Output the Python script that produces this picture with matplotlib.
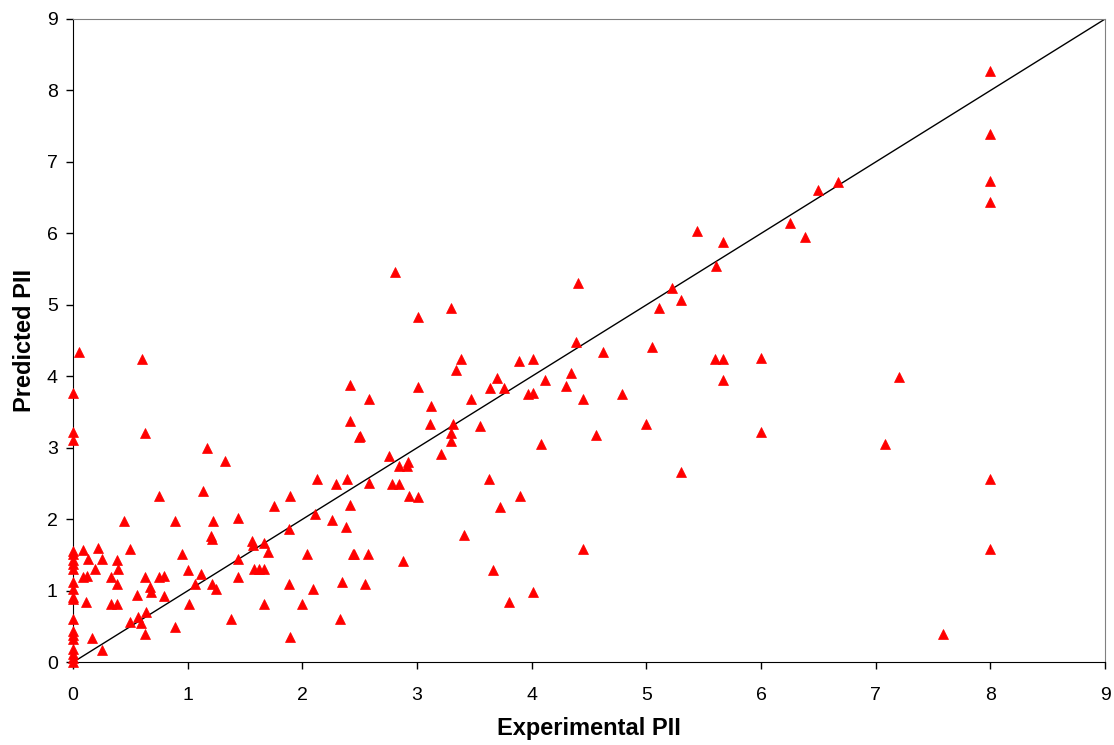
import numpy as np
import matplotlib.pyplot as plt

plt.rcParams['font.family'] = ['Liberation Sans', 'DejaVu Sans']

# experimental vs predicted PII
exp_zero = [0.0] * 20
pred_zero = [3.77, 3.22, 3.11, 1.56, 1.51, 1.43, 1.37, 1.31, 1.13, 1.03, 0.92,
             0.89, 0.60, 0.44, 0.38, 0.33, 0.18, 0.12, 0.06, 0.01]

exp_low = [0.05, 0.60, 0.63, 0.445, 0.89, 0.085, 0.22, 0.50, 0.135, 0.25, 0.38,
           0.95, 0.19, 0.39, 0.09, 0.12, 0.33, 0.38, 1.00, 0.63, 0.75, 0.79,
           0.67, 0.68, 0.56, 0.79, 0.11, 0.33, 0.38, 1.01, 0.50, 0.57, 0.64,
           0.59, 0.63, 0.89, 0.17, 0.25, 0.75]
pred_low = [4.34, 4.24, 3.21, 1.97, 1.97, 1.57, 1.60, 1.58, 1.44, 1.44, 1.43,
            1.51, 1.30, 1.30, 1.20, 1.21, 1.19, 1.09, 1.29, 1.19, 1.20, 1.21,
            1.05, 0.98, 0.94, 0.93, 0.84, 0.82, 0.82, 0.81, 0.56, 0.63, 0.70,
            0.55, 0.39, 0.49, 0.34, 0.17, 2.32]

exp_mid = [2.42, 2.42, 2.49, 1.17, 1.33, 1.13, 1.22, 1.44, 1.20, 1.21, 1.755,
           1.89, 2.13, 2.29, 2.39, 2.42, 2.11, 2.26, 2.38, 1.88, 1.56, 1.57,
           1.67, 1.70, 1.44, 2.04, 2.44, 1.58, 1.62, 1.67, 1.44, 1.12, 1.06,
           1.21, 1.25, 1.88, 2.09, 2.35, 1.67, 2.00, 1.38, 1.89, 2.33, 2.55,
           2.57, 2.45]
pred_mid = [3.88, 3.38, 3.15, 3.00, 2.82, 2.40, 1.98, 2.02, 1.77, 1.72, 2.18,
            2.32, 2.57, 2.50, 2.56, 2.20, 2.08, 1.99, 1.89, 1.87, 1.70, 1.64,
            1.67, 1.54, 1.44, 1.51, 1.52, 1.30, 1.30, 1.30, 1.19, 1.23, 1.09,
            1.10, 1.02, 1.09, 1.02, 1.12, 0.82, 0.82, 0.60, 0.36, 0.60, 1.10,
            1.52, 1.52]

exp_high = [2.81, 4.40, 3.005, 3.30, 4.39, 3.38, 3.34, 3.89, 4.01, 3.70, 3.64,
            3.76, 4.12, 4.34, 4.30, 3.97, 4.01, 4.45, 3.005, 2.58, 3.12, 3.47,
            3.11, 3.31, 3.30, 3.30, 3.55, 2.50, 4.56, 4.08, 3.21, 2.755, 2.84,
            2.91, 2.92, 2.58, 2.78, 2.84, 3.63, 2.93, 3.005, 3.90, 3.72, 3.41,
            4.45, 2.88, 3.66, 3.80, 4.01]
pred_high = [5.46, 5.31, 4.83, 4.95, 4.48, 4.24, 4.09, 4.21, 4.24, 3.98, 3.84,
             3.84, 3.95, 4.05, 3.86, 3.76, 3.77, 3.69, 3.85, 3.69, 3.59, 3.68,
             3.33, 3.33, 3.21, 3.10, 3.30, 3.16, 3.18, 3.06, 2.91, 2.88, 2.75,
             2.75, 2.80, 2.51, 2.50, 2.50, 2.56, 2.33, 2.31, 2.32, 2.17, 1.78,
             1.58, 1.42, 1.29, 0.84, 0.98]

exp_top = [8.0, 8.0, 8.0, 8.0, 8.0, 8.0, 7.585, 7.20, 7.08, 6.67, 6.50, 6.25,
           6.38, 5.44, 5.67, 5.61, 5.22, 5.30, 5.11, 4.62, 5.05, 5.60, 5.67,
           6.00, 5.67, 4.79, 5.00, 6.00, 5.30]
pred_top = [8.27, 7.39, 6.73, 6.44, 2.56, 1.59, 0.40, 3.99, 3.06, 6.72, 6.61,
            6.15, 5.95, 6.04, 5.88, 5.55, 5.24, 5.07, 4.96, 4.34, 4.41, 4.24,
            4.24, 4.26, 3.95, 3.76, 3.33, 3.22, 2.66]

experimental = np.array(exp_zero + exp_low + exp_mid + exp_high + exp_top)
predicted = np.array(pred_zero + pred_low + pred_mid + pred_high + pred_top)
ideal = [0, 9]

fig, ax = plt.subplots(figsize=(11.14, 7.45), dpi=100)
fig.subplots_adjust(left=0.0655, right=0.992, bottom=0.111, top=0.9745)

ax.plot(ideal, ideal, color='black', linewidth=1.0, zorder=2)
ax.plot(experimental, predicted, linestyle='none', marker='^', markersize=7.5,
        color='#FF0000', markeredgecolor='#FF0000', markeredgewidth=0.5,
        clip_on=False, zorder=3)

ax.set_xlim(0, 9)
ax.set_ylim(0, 9)
ax.set_xticks(range(10))
ax.set_yticks(range(10))
ax.tick_params(direction='out', length=5, width=1, labelsize=14, colors='black')
ax.tick_params(axis='x', pad=12.5)
ax.tick_params(axis='y', pad=6)
for side in ['top', 'right']:
    ax.spines[side].set_color('#808080')
for side in ['left', 'bottom']:
    ax.spines[side].set_color('black')

ax.set_xlabel('Experimental PII', fontsize=17, fontweight='bold', labelpad=10)
ax.set_ylabel('Predicted PII', fontsize=17, fontweight='bold', labelpad=7.5)

plt.savefig('out.png', dpi=100)
